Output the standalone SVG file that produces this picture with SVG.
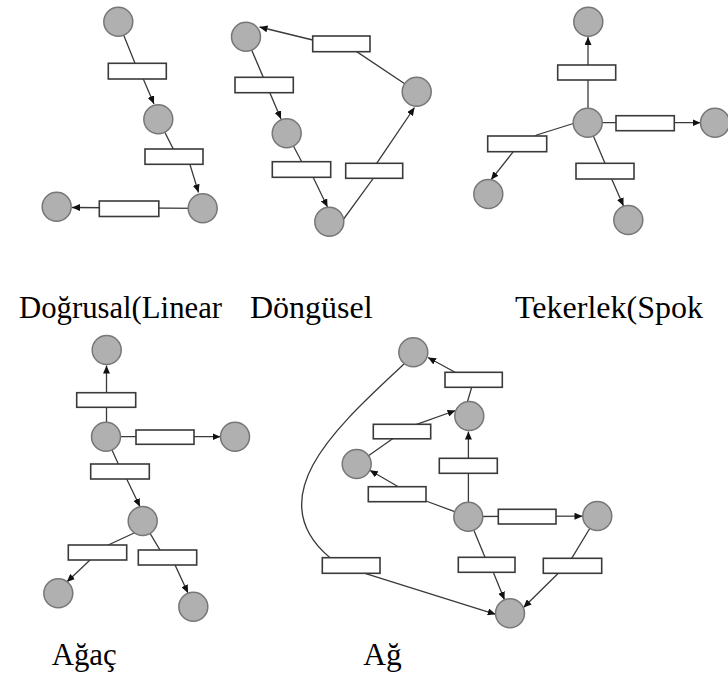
<svg xmlns="http://www.w3.org/2000/svg" width="728" height="673" viewBox="0 0 728 673">
<defs>
<marker id="arr" markerUnits="userSpaceOnUse" markerWidth="8" markerHeight="7" refX="8" refY="3.5" orient="auto">
<path d="M0,0 L8,3.5 L0,7 z" fill="#111"/>
</marker>
<style>
.c{fill:#b0b0b0;stroke:#777;stroke-width:1.5}
.t{fill:#fff;stroke:#3a3a3a;stroke-width:1.6}
.e{fill:none;stroke:#3a3a3a;stroke-width:1.3;marker-end:url(#arr)}
.n{fill:none;stroke:#3a3a3a;stroke-width:1.3}
text{font-family:'Liberation Serif','Times New Roman',Times,serif;fill:#000}
</style>
</defs>
<rect width="728" height="673" fill="#fff"/>

<g id="connectors">
<path class="e" d="M118.3,21.7 L135,63.3 L143.3,79 L154,104"/>
<path class="e" d="M158.3,119.3 L173.3,149 L190,164.5 L198.5,192.5"/>
<path class="e" d="M202.7,208.3 L72,207.5"/>
<path class="e" d="M416.7,91.7 L356.7,51.7 L312.7,40 L259.5,27"/>
<path class="e" d="M246,36.7 L281,119"/>
<path class="e" d="M286.7,133.3 L301.7,161.7 L313,177 L327.5,207"/>
<path class="e" d="M340,224 L373.3,178.3 L376.7,163.3 L414.5,107.5"/>
<path class="e" d="M588,122.7 L588,37"/>
<path class="e" d="M587.7,122.7 L700.5,122.7"/>
<path class="e" d="M587.7,119 L536.7,135 L513.3,151.7 L491,179.8"/>
<path class="e" d="M587.7,122.7 L605,163.3 L611.7,179 L623.5,206"/>
<path class="e" d="M106.5,436.7 L106.5,365.5"/>
<path class="e" d="M106,436.7 L220.5,436.7"/>
<path class="e" d="M106,436.7 L118.3,464 L126.7,479 L140,506.7"/>
<path class="e" d="M142.7,529 L108.3,545 L90,560 L66.8,582"/>
<path class="e" d="M142.7,521 L160,550 L175,565 L188,593"/>
<path class="e" d="M465,410 L471.7,387.3 L455,372.3 L428,357.5"/>
<path class="e" d="M468.4,516.7 L468.4,431.5"/>
<path class="e" d="M468.3,516.7 L426,501 L398.3,486.7 L369.8,470.3"/>
<path class="e" d="M356.7,464 L393.3,438.3 L416.7,424.3 L455.5,410.5"/>
<path class="e" d="M468.3,516.5 L582.5,516.2"/>
<path class="e" d="M468.3,516.7 L485,557.3 L493.3,572.3 L504.5,599.8"/>
<path class="e" d="M597.3,516 L571.7,558.3 L558.3,573.3 L523.5,607.5"/>
<path class="n" d="M404,364 C345,420 255,495 330,557.7"/>
<path class="e" d="M330,557.7 L365,573.3 L495.7,614.3"/>
</g>

<g id="lin-p1"><circle class="c" cx="118.3" cy="21.7" r="14.5"/></g>
<g id="lin-t1"><rect class="t" x="108.3" y="63.3" width="58" height="15.7"/></g>
<g id="lin-p2"><circle class="c" cx="158.3" cy="119.3" r="14.5"/></g>
<g id="lin-t2"><rect class="t" x="145" y="149" width="58" height="15.3"/></g>
<g id="lin-p3"><circle class="c" cx="202.7" cy="208.3" r="14.5"/></g>
<g id="lin-t3"><rect class="t" x="99.3" y="201" width="59.5" height="15.5"/></g>
<g id="lin-p4"><circle class="c" cx="56.7" cy="206.7" r="14.5"/></g>

<g id="cyc-pa"><circle class="c" cx="246" cy="36.7" r="14.5"/></g>
<g id="cyc-t1"><rect class="t" x="312.7" y="36" width="57.3" height="15.7"/></g>
<g id="cyc-pb"><circle class="c" cx="416.7" cy="91.7" r="14.5"/></g>
<g id="cyc-t2"><rect class="t" x="235" y="77.3" width="58.3" height="15.4"/></g>
<g id="cyc-pc"><circle class="c" cx="286.7" cy="133.3" r="14.5"/></g>
<g id="cyc-t3"><rect class="t" x="272.3" y="161.7" width="58.4" height="15.6"/></g>
<g id="cyc-t4"><rect class="t" x="345.7" y="163.3" width="57" height="15"/></g>
<g id="cyc-pd"><circle class="c" cx="329.3" cy="221.7" r="14.5"/></g>

<g id="spk-top"><circle class="c" cx="588.3" cy="21.7" r="14.5"/></g>
<g id="spk-t1"><rect class="t" x="557.7" y="65" width="58" height="15"/></g>
<g id="spk-hub"><circle class="c" cx="587.7" cy="122.7" r="14.5"/></g>
<g id="spk-t2"><rect class="t" x="616" y="115.7" width="58.3" height="15"/></g>
<g id="spk-right"><circle class="c" cx="715" cy="122.7" r="14.5"/></g>
<g id="spk-t3"><rect class="t" x="487.7" y="136" width="59" height="15.7"/></g>
<g id="spk-left"><circle class="c" cx="488.3" cy="194" r="14.5"/></g>
<g id="spk-t4"><rect class="t" x="576" y="163.3" width="58" height="15.7"/></g>
<g id="spk-bottom"><circle class="c" cx="628.3" cy="220" r="14.5"/></g>

<g id="tre-p1"><circle class="c" cx="106.7" cy="350" r="14.5"/></g>
<g id="tre-t1"><rect class="t" x="76.7" y="392.7" width="59" height="14.6"/></g>
<g id="tre-p2"><circle class="c" cx="106" cy="436.7" r="14.5"/></g>
<g id="tre-t2"><rect class="t" x="136" y="430" width="58" height="14.3"/></g>
<g id="tre-p3"><circle class="c" cx="235" cy="436.7" r="14.5"/></g>
<g id="tre-t3"><rect class="t" x="90.7" y="464" width="58.6" height="15"/></g>
<g id="tre-p4"><circle class="c" cx="142.7" cy="521" r="14.5"/></g>
<g id="tre-t4"><rect class="t" x="68.3" y="545" width="58.4" height="15"/></g>
<g id="tre-t5"><rect class="t" x="138.3" y="550" width="58.4" height="15"/></g>
<g id="tre-p5"><circle class="c" cx="58.3" cy="593.3" r="14.5"/></g>
<g id="tre-p6"><circle class="c" cx="193.3" cy="606.7" r="14.5"/></g>

<g id="net-top"><circle class="c" cx="413.3" cy="352.3" r="14.5"/></g>
<g id="net-t1"><rect class="t" x="445" y="372.3" width="57.3" height="15"/></g>
<g id="net-m1"><circle class="c" cx="469.3" cy="416" r="14.5"/></g>
<g id="net-t2"><rect class="t" x="373.3" y="424.3" width="57.4" height="14.5"/></g>
<g id="net-left"><circle class="c" cx="356.7" cy="464" r="14.5"/></g>
<g id="net-t3"><rect class="t" x="439.3" y="458.3" width="58" height="15"/></g>
<g id="net-t4"><rect class="t" x="368.3" y="486.7" width="57.7" height="15"/></g>
<g id="net-center"><circle class="c" cx="468.3" cy="516.7" r="14.5"/></g>
<g id="net-t5"><rect class="t" x="498.3" y="509.3" width="57.7" height="14.7"/></g>
<g id="net-right"><circle class="c" cx="597.3" cy="516" r="14.5"/></g>
<g id="net-t6"><rect class="t" x="322.3" y="557.7" width="57.7" height="15.6"/></g>
<g id="net-t7"><rect class="t" x="458.3" y="557.3" width="56.7" height="15"/></g>
<g id="net-t8"><rect class="t" x="543.3" y="558.3" width="58.4" height="15"/></g>
<g id="net-bottom"><circle class="c" cx="510" cy="613.3" r="14.5"/></g>

<g id="labels">
<text x="19" y="318" font-size="32" textLength="203" lengthAdjust="spacingAndGlyphs">Doğrusal(Linear</text>
<text x="250" y="318" font-size="32">Döngüsel</text>
<text x="515" y="318" font-size="32" textLength="188" lengthAdjust="spacingAndGlyphs">Tekerlek(Spok</text>
<text x="51.7" y="665" font-size="31" textLength="65" lengthAdjust="spacingAndGlyphs">Ağaç</text>
<text x="363.3" y="665" font-size="31" textLength="38.4" lengthAdjust="spacingAndGlyphs">Ağ</text>
</g>
</svg>
